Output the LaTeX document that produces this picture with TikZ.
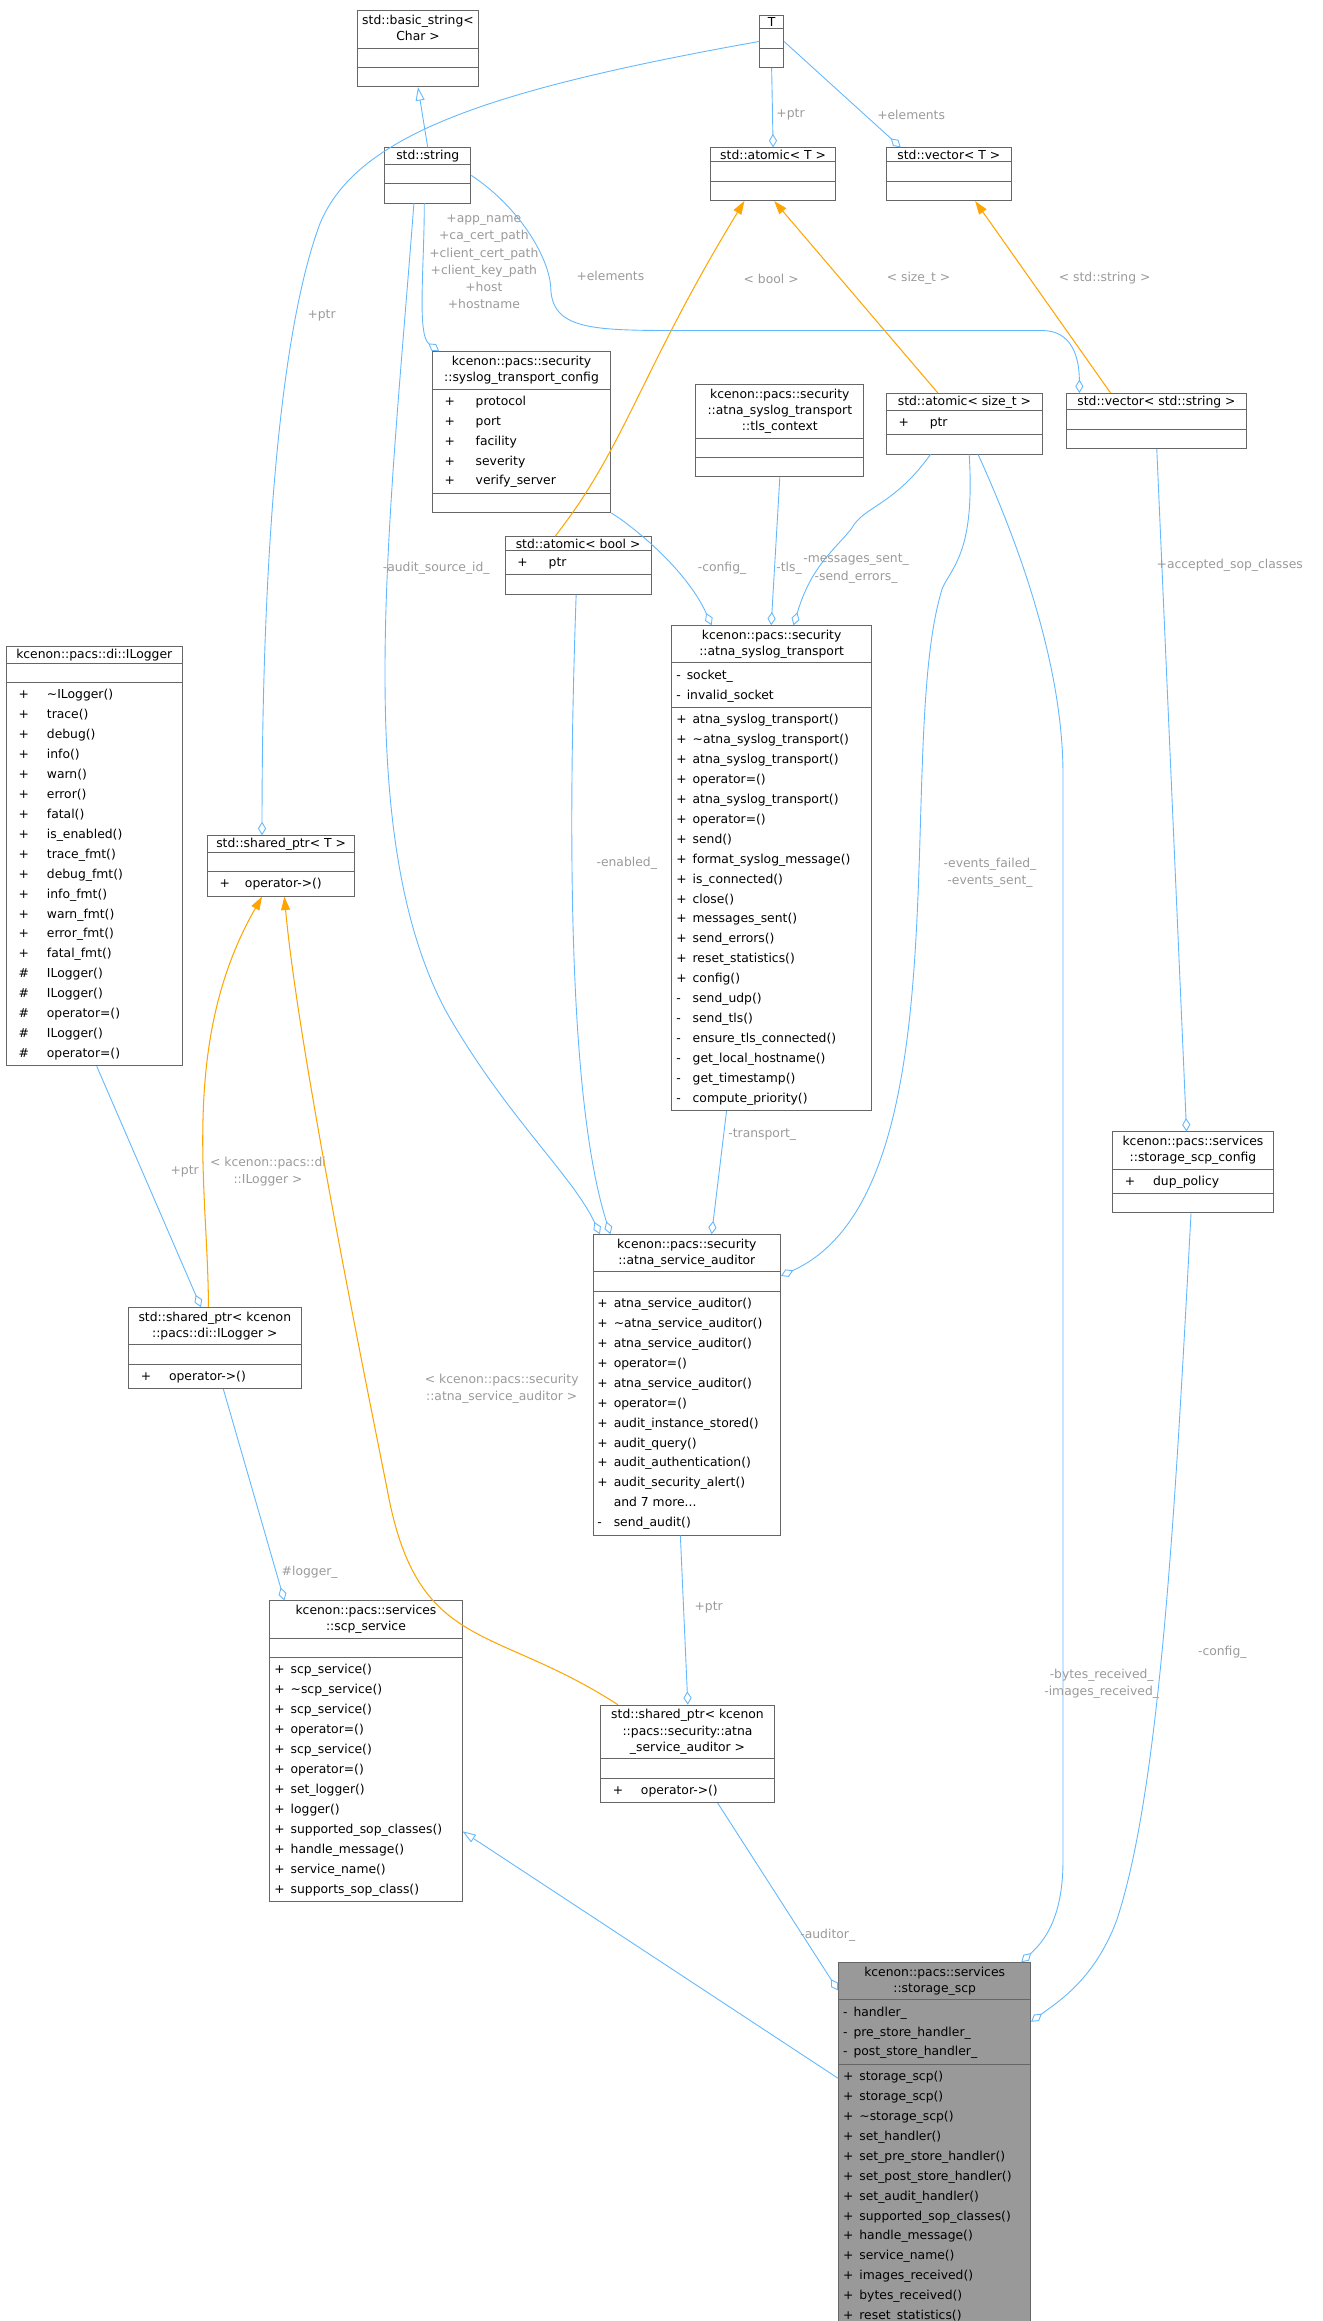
\documentclass[tikz,border=0pt]{standalone}
\usepackage{fontspec}
\setmainfont{DejaVu Sans}
\usetikzlibrary{shapes.multipart,arrows.meta}
\definecolor{ln}{HTML}{63B8FF}
\definecolor{og}{HTML}{FFA500}
\definecolor{lb}{HTML}{9A9A9A}
\definecolor{bd}{HTML}{666666}
\newcommand\tl[1]{{\renewcommand\arraystretch{0.82}\begin{tabular}{@{}c@{}}#1\end{tabular}}}
\newcommand\rw[2][4pt]{\begin{tabular}{@{}l@{\hspace{#1}}l@{}}#2\end{tabular}}
\tikzset{
  cls/.style={draw=bd, line width=0.6pt, rectangle split, rectangle split parts=3,
    rectangle split part align={center,left,left}, rectangle split ignore empty parts=false,
    rectangle split empty part height=10pt, inner xsep=3pt, inner ysep=1.2pt,
    anchor=north west, fill=white, font=\fontsize{8.3}{13.4}\selectfont},
  agg/.style={draw=ln, line width=0.6pt, -{Diamond[open,length=9pt,width=5.5pt]}},
  inh/.style={draw=ln, line width=0.6pt, -{Triangle[open,length=9pt,width=6pt]}},
  tpl/.style={draw=og, line width=0.7pt, -{Triangle[length=9pt,width=6pt]}},
  lbl/.style={text=lb, font=\fontsize{8.3}{11.6}\selectfont, align=center, inner sep=1pt},
}
\begin{document}
\begin{tikzpicture}[x=1pt,y=-1pt]
\useasboundingbox (0,0) rectangle (888,1559);
% nodes
\node[cls,minimum width=64] (bstr) at (240,7) {\tl{std::basic\_string<\\Char >}\nodepart{two}\nodepart{three}};
\node[cls,minimum width=16] (T) at (510,10) {T\nodepart{two}\nodepart{three}};
\node[cls,minimum width=58] (str) at (258,99) {std::string\nodepart{two}\nodepart{three}};
\node[cls,minimum width=84] (atT) at (477,99) {std::atomic< T >\nodepart{two}\nodepart{three}};
\node[cls,minimum width=84] (vecT) at (595,99) {std::vector< T >\nodepart{two}\nodepart{three}};
\node[cls,minimum width=120] (cfg) at (290,236) {\tl{kcenon::pacs::security\\::syslog\_transport\_config}\nodepart{two}\rw[14pt]{\ \ +&protocol\\\ \ +&port\\\ \ +&facility\\\ \ +&severity\\\ \ +&verify\_server}\nodepart{three}};
\node[cls,minimum width=113] (tls) at (467,258) {\tl{kcenon::pacs::security\\::atna\_syslog\_transport\\::tls\_context}\nodepart{two}\nodepart{three}};
\node[cls,minimum width=105] (ats) at (595,264) {std::atomic< size\_t >\nodepart{two}\rw[14pt]{\ \ +&ptr}\nodepart{three}};
\node[cls,minimum width=121] (vecs) at (716,264) {std::vector< std::string >\nodepart{two}\nodepart{three}};
\node[cls,minimum width=98] (atb) at (339,360) {std::atomic< bool >\nodepart{two}\rw[14pt]{\ \ +&ptr}\nodepart{three}};
\node[cls,minimum width=118] (ilog) at (4,434) {kcenon::pacs::di::ILogger\nodepart{two}\nodepart{three}\rw[12pt]{\ \ +&\textasciitilde ILogger()\\\ \ +&trace()\\\ \ +&debug()\\\ \ +&info()\\\ \ +&warn()\\\ \ +&error()\\\ \ +&fatal()\\\ \ +&is\_enabled()\\\ \ +&trace\_fmt()\\\ \ +&debug\_fmt()\\\ \ +&info\_fmt()\\\ \ +&warn\_fmt()\\\ \ +&error\_fmt()\\\ \ +&fatal\_fmt()\\\ \ \#&ILogger()\\\ \ \#&ILogger()\\\ \ \#&operator=()\\\ \ \#&ILogger()\\\ \ \#&operator=()}};
\node[cls,minimum width=99] (spT) at (139,561) {std::shared\_ptr< T >\nodepart{two}\nodepart{three}\rw[10pt]{\ \ +&operator->()}};
\node[cls,minimum width=134] (tr) at (451,420) {\tl{kcenon::pacs::security\\::atna\_syslog\_transport}\nodepart{two}\rw{-&socket\_\\-&invalid\_socket}\nodepart{three}\rw{+&atna\_syslog\_transport()\\+&\textasciitilde atna\_syslog\_transport()\\+&atna\_syslog\_transport()\\+&operator=()\\+&atna\_syslog\_transport()\\+&operator=()\\+&send()\\+&format\_syslog\_message()\\+&is\_connected()\\+&close()\\+&messages\_sent()\\+&send\_errors()\\+&reset\_statistics()\\+&config()\\-&send\_udp()\\-&send\_tls()\\-&ensure\_tls\_connected()\\-&get\_local\_hostname()\\-&get\_timestamp()\\-&compute\_priority()}};
\node[cls,minimum width=126] (aud) at (398,829) {\tl{kcenon::pacs::security\\::atna\_service\_auditor}\nodepart{two}\nodepart{three}\rw{+&atna\_service\_auditor()\\+&\textasciitilde atna\_service\_auditor()\\+&atna\_service\_auditor()\\+&operator=()\\+&atna\_service\_auditor()\\+&operator=()\\+&audit\_instance\_stored()\\+&audit\_query()\\+&audit\_authentication()\\+&audit\_security\_alert()\\&and 7 more...\\-&send\_audit()}};
\node[cls,minimum width=108] (scfg) at (747,760) {\tl{kcenon::pacs::services\\::storage\_scp\_config}\nodepart{two}\rw[12pt]{\ \ +&dup\_policy}\nodepart{three}};
\node[cls,minimum width=116] (spL) at (86,878) {\tl{std::shared\_ptr< kcenon\\::pacs::di::ILogger >}\nodepart{two}\nodepart{three}\rw[12pt]{\ \ +&operator->()}};
\node[cls,minimum width=129] (scp) at (181,1075) {\tl{kcenon::pacs::services\\::scp\_service}\nodepart{two}\nodepart{three}\rw{+&scp\_service()\\+&\textasciitilde scp\_service()\\+&scp\_service()\\+&operator=()\\+&scp\_service()\\+&operator=()\\+&set\_logger()\\+&logger()\\+&supported\_sop\_classes()\\+&handle\_message()\\+&service\_name()\\+&supports\_sop\_class()}};
\node[cls,minimum width=117] (spA) at (403,1145) {\tl{std::shared\_ptr< kcenon\\::pacs::security::atna\\\_service\_auditor >}\nodepart{two}\nodepart{three}\rw[12pt]{\ \ +&operator->()}};
\node[cls,minimum width=129,fill={rgb,255:red,153;green,153;blue,153}] (st) at (563,1318) {\tl{kcenon::pacs::services\\::storage\_scp}\nodepart{two}\rw{-&handler\_\\-&pre\_store\_handler\_\\-&post\_store\_handler\_}\nodepart{three}\rw{+&storage\_scp()\\+&storage\_scp()\\+&\textasciitilde storage\_scp()\\+&set\_handler()\\+&set\_pre\_store\_handler()\\+&set\_post\_store\_handler()\\+&set\_audit\_handler()\\+&supported\_sop\_classes()\\+&handle\_message()\\+&service\_name()\\+&images\_received()\\+&bytes\_received()\\+&reset\_statistics()}};

% edges
\draw[inh] (str.north) -- (bstr.south);
\draw[agg] (T.south) -- (atT.north);
\node[lbl] at (531,77) {+ptr};
\draw[agg] (T.east) -- ([xshift=10pt]vecT.north west);
\node[lbl] at (612,77) {+elements};
\draw[agg] (T.west) .. controls (330,60) and (240,90) .. (215,150) .. controls (185,230) and (176,400) .. ([xshift=37pt]spT.north west);
\node[lbl] at (216,212) {+ptr};
\draw[agg] (str.east) .. controls (350,140) and (370,175) .. (370,195) .. controls (372,222) and (400,222) .. (460,222) -- (700,222) .. controls (720,222) and (725,240) .. ([xshift=9pt]vecs.north west);
\node[lbl] at (410,185) {+elements};
\draw[agg] ([xshift=27pt]str.south west) .. controls (285,180) and (280,225) .. ([xshift=5pt]cfg.north west);
\node[lbl] at (325,176) {+app\_name\\+ca\_cert\_path\\+client\_cert\_path\\+client\_key\_path\\+host\\+hostname};
\draw[agg] ([xshift=20pt]str.south west) .. controls (262,350) and (235,560) .. (300,680) .. controls (340,750) and (385,790) .. ([xshift=5pt]aud.north west);
\node[lbl] at (293,382) {-audit\_source\_id\_};
\draw[tpl] ([xshift=34pt]atb.north west) .. controls (420,300) and (430,250) .. ([xshift=23pt]atT.south west);
\node[lbl] at (518,187) {< bool >};
\draw[tpl] ([xshift=35pt]ats.north west) -- ([xshift=43pt]atT.south west);
\node[lbl] at (617,187) {< size\_t >};
\draw[tpl] ([xshift=30pt]vecs.north west) -- ([xshift=60pt]vecT.south west);
\node[lbl] at (742,187) {< std::string >};
\draw[agg] (cfg.south east) .. controls (420,350) and (460,380) .. ([xshift=27pt]tr.north west);
\node[lbl] at (485,382) {-config\_};
\draw[agg] (tls.south) -- ([xshift=67pt]tr.north west);
\node[lbl] at (530,382) {-tls\_};
\draw[agg] ([xshift=30pt]ats.south west) .. controls (600,340) and (580,340) .. (572,355) .. controls (560,370) and (545,380) .. ([xshift=82pt]tr.north west);
\node[lbl] at (575,382) {-messages\_sent\_\\-send\_errors\_};
\draw[agg] ([xshift=56pt]ats.south west) .. controls (655,370) and (640,380) .. (633,395) .. controls (600,500) and (650,800) .. ([yshift=-28pt]aud.north east);
\node[lbl] at (665,586) {-events\_failed\_\\-events\_sent\_};
\draw[agg] ([xshift=62pt]ats.south west) .. controls (700,400) and (714,470) .. (714,520) -- (714,1250) .. controls (714,1290) and (700,1305) .. ([xshift=123pt]st.north west);
\node[lbl] at (740,1131) {-bytes\_received\_\\-images\_received\_};
\draw[agg] ([xshift=61pt]vecs.south west) -- ([xshift=50pt]scfg.north west);
\node[lbl] at (826,380) {+accepted\_sop\_classes};
\draw[agg] ([xshift=48pt]atb.south west) .. controls (380,600) and (385,750) .. ([xshift=12pt]aud.north west);
\node[lbl] at (421,580) {-enabled\_};
\draw[agg] ([xshift=37pt]tr.south west) -- ([xshift=80pt]aud.north west);
\node[lbl] at (512,762) {-transport\_};
\draw[agg] ([xshift=61pt]ilog.south west) -- ([xshift=49pt]spL.north west);
\node[lbl] at (124,787) {+ptr};
\draw[tpl] ([xshift=54pt]spL.north west) .. controls (140,800) and (120,700) .. ([xshift=37pt]spT.south west);
\node[lbl] at (180,787) {< kcenon::pacs::di\\::ILogger >};
\draw[tpl] ([xshift=12pt]spA.north west) .. controls (330,1090) and (280,1110) .. (260,1000) .. controls (240,900) and (200,700) .. ([xshift=52pt]spT.south west);
\node[lbl] at (337,933) {< kcenon::pacs::security\\::atna\_service\_auditor >};
\draw[agg] ([xshift=64pt]spL.south west) -- ([xshift=10pt]scp.north west);
\node[lbl] at (208,1056) {\#logger\_};
\draw[agg] ([xshift=59pt]aud.south west) -- ([xshift=59pt]spA.north west);
\node[lbl] at (476,1080) {+ptr};
\draw[agg] ([xshift=79pt]spA.south west) -- ([yshift=-19pt]st.north west);
\node[lbl] at (556,1300) {-auditor\_};
\draw[inh] ([yshift=-78pt]st.north west) -- ([yshift=-155pt]scp.north east);
\draw[agg] ([xshift=53pt]scfg.south west) .. controls (790,1000) and (780,1200) .. (750,1290) .. controls (735,1330) and (710,1345) .. ([yshift=-40pt]st.north east);
\node[lbl] at (821,1110) {-config\_};
\end{tikzpicture}
\end{document}
